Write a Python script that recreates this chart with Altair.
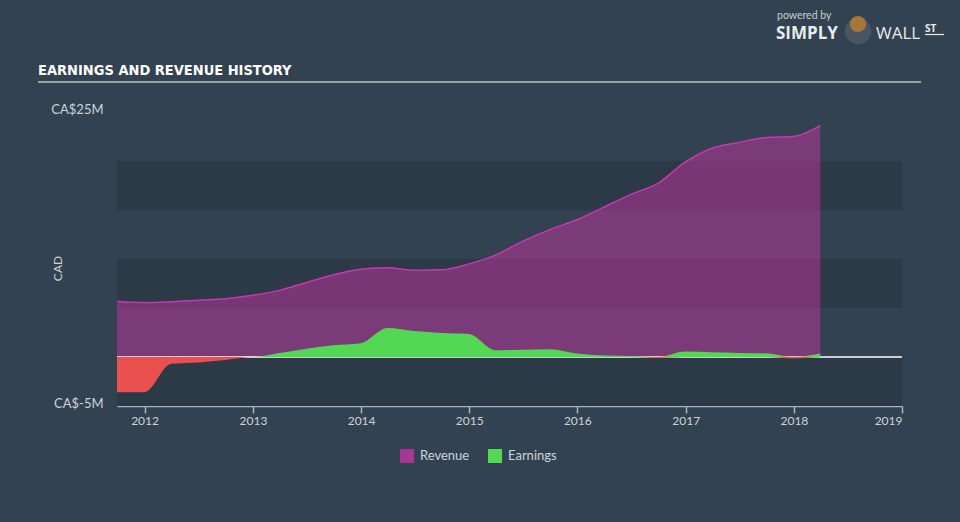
import altair as alt
import pandas as pd

# ---------------- data ----------------
dates = ["2011-09-30", "2011-12-31", "2012-03-31", "2012-06-30", "2012-09-30", "2012-12-31",
         "2013-03-31", "2013-06-30", "2013-09-30", "2013-12-31", "2014-03-31", "2014-06-30",
         "2014-09-30", "2014-12-31", "2015-03-31", "2015-06-30", "2015-09-30", "2015-12-31",
         "2016-03-31", "2016-06-30", "2016-09-30", "2016-12-31", "2017-03-31", "2017-06-30",
         "2017-09-30", "2017-12-31", "2018-03-31"]
revenue = [5.7, 5.55, 5.65, 5.8, 5.95, 6.3, 6.8, 7.6, 8.4, 8.95, 9.1, 8.85, 8.9, 9.5,
           10.4, 11.8, 13.0, 14.0, 15.3, 16.6, 17.75, 19.9, 21.3, 21.9, 22.4, 22.5, 23.6]
earnings = [-3.6, -3.6, -0.7, -0.55, -0.3, 0.0, 0.4, 0.85, 1.2, 1.4, 2.95, 2.65, 2.45, 2.35,
            0.7, 0.75, 0.8, 0.35, 0.15, 0.1, -0.1, 0.55, 0.48, 0.42, 0.38, -0.15, 0.35]
band_lo = [-5, 5, 15]
band_hi = [0, 10, 20]
y_ticks = [-5, 25]
x_years = [2012, 2013, 2014, 2015, 2016, 2017, 2018, 2019]

df = pd.DataFrame({"date": dates, "revenue": revenue, "earnings": earnings})
df["pos"] = df["earnings"].clip(lower=0)
df["neg"] = df["earnings"].clip(upper=0)
df["rev_series"] = "Revenue"
df["earn_series"] = "Earnings"
bands = pd.DataFrame({"lo": band_lo, "hi": band_hi})

BG = "#334251"
BAND = "#2c3947"
TXT = "#cdd3d9"
FONT = "Lato"
W, H = 785, 294

xscale = alt.Scale(domain=[alt.DateTime(year=2011, month=9, date=30),
                           alt.DateTime(year=2019, month=1, date=1)])
yscale = alt.Scale(domain=[-5, 25], nice=False, zero=False)

x_enc = alt.X("date:T", scale=xscale, title=None,
              axis=alt.Axis(values=[alt.DateTime(year=y, month=1, date=1) for y in x_years],
                            format="%Y", grid=False, domainColor="#a9b3bd", tickColor="#a9b3bd",
                            tickSize=7, domainWidth=1.5, tickWidth=1.5,
                            labelColor=TXT, labelFontSize=12, labelFont=FONT, labelPadding=2))
y_axis = alt.Axis(values=y_ticks, labelExpr="'CA$' + datum.value + 'M'", grid=False,
                  ticks=False, domain=False, labelColor=TXT, labelFontSize=13, labelFont=FONT,
                  labelPadding=14, labelOffset=-3, title="CAD", titleColor=TXT, titleFontSize=12,
                  titleFont=FONT, titleFontWeight="normal", titleX=-53, titleY=156)

color_scale = alt.Scale(domain=["Revenue", "Earnings"], range=["#a8378f", "#52d852"])
legend = alt.Legend(orient="none", legendX=283, legendY=337, direction="horizontal",
                    title=None, symbolType="square", symbolSize=196, symbolOpacity=1,
                    symbolStrokeWidth=0, labelColor=TXT, labelFontSize=13, labelFont=FONT,
                    labelOffset=6, columnPadding=18)

band_layer = alt.Chart(bands).mark_rect(color=BAND).encode(
    x=alt.value(0), x2=alt.value(W),
    y=alt.Y("lo:Q", scale=yscale, axis=y_axis), y2="hi:Q")

base = alt.Chart(df)
rev_area = base.mark_area(interpolate="monotone", opacity=0.62).encode(
    x=x_enc, y=alt.Y("revenue:Q", scale=yscale),
    color=alt.Color("rev_series:N", scale=color_scale, legend=legend))
rev_line = base.mark_line(interpolate="monotone", color="#c03cae", strokeWidth=1.5).encode(
    x="date:T", y="revenue:Q")
zero = alt.Chart(pd.DataFrame({"z": [0]})).mark_rule(color="#ffffff", strokeWidth=1.5).encode(
    y="z:Q", x=alt.value(0), x2=alt.value(W))
pos_area = base.mark_area(interpolate="monotone").encode(
    x="date:T", y="pos:Q",
    color=alt.Color("earn_series:N", scale=color_scale, legend=legend))
neg_area = base.mark_area(interpolate="monotone", color="#e9504f").encode(
    x="date:T", y="neg:Q")

# ---------------- decorations ----------------
def txt(s, x, y, size, color, weight="normal", font=FONT, align="left", baseline="alphabetic"):
    return alt.Chart(pd.DataFrame({"t": [s]})).mark_text(
        align=align, baseline=baseline, fontSize=size, fontWeight=weight, font=font,
        color=color).encode(text="t:N", x=alt.value(x), y=alt.value(y))

title = txt("EARNINGS AND REVENUE HISTORY", 38 - 117, 75 - 112, 14.5, "#ffffff", "bold",
            font="DejaVu Sans Condensed")
underline = alt.Chart(pd.DataFrame({"a": [0]})).mark_rule(color="#9aa1a9", strokeWidth=2).encode(
    x=alt.value(38 - 117), x2=alt.value(921 - 117), y=alt.value(82 - 112))
powered = txt("powered by", 777 - 117, 19 - 112, 10.5, "#c8ccd0")
simply = txt("SIMPLY", 776 - 117, 38.5 - 112, 17, "#e8eaec", "bold", font="Open Sans")
wall = txt("WALL", 876 - 117, 38.5 - 112, 17, "#e8eaec", "normal", font="Open Sans")
st = txt("ST", 925 - 117, 32 - 112, 10, "#e8eaec", "bold", font="Open Sans")
st_line = alt.Chart(pd.DataFrame({"a": [0]})).mark_rule(color="#e8eaec", strokeWidth=1.2).encode(
    x=alt.value(925 - 117), x2=alt.value(944 - 117), y=alt.value(34.5 - 112))
icon_bg = alt.Chart(pd.DataFrame({"a": [0]})).mark_circle(size=700, color="#4a5561", opacity=1).encode(
    x=alt.value(858 - 117), y=alt.value(31 - 112))
icon_head = alt.Chart(pd.DataFrame({"a": [0]})).mark_circle(size=260, color="#a7773a", opacity=1).encode(
    x=alt.value(858 - 117), y=alt.value(24 - 112))

chart = alt.layer(
    band_layer, rev_area, rev_line, zero, pos_area, neg_area,
    title, underline, powered, simply, wall, st, st_line, icon_bg, icon_head
).properties(
    width=W, height=H,
    autosize=alt.AutoSizeParams(type="none"),
    padding={"left": 117, "top": 112, "right": 58, "bottom": 116},
    background=BG
).configure_view(stroke=None)

chart.save("out.html", embed_options={"renderer": "svg", "actions": False})
